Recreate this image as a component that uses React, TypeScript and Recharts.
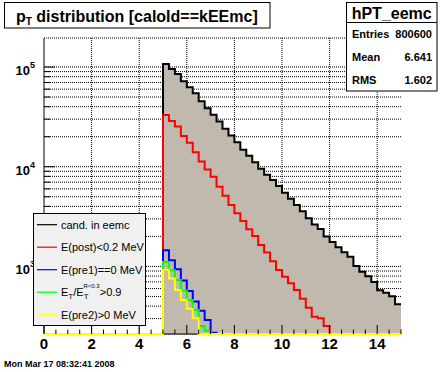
import { ComposedChart, Area, Line, XAxis, YAxis, CartesianGrid, Legend } from 'recharts'

const FONT = '"Liberation Sans", Arial, Helvetica, sans-serif'

// bin edges of the pT histogram (0.25 wide, 5 to 15)
const binEdges = [
  5, 5.25, 5.5, 5.75, 6, 6.25, 6.5, 6.75, 7, 7.25, 7.5, 7.75, 8, 8.25, 8.5, 8.75, 9, 9.25, 9.5, 9.75,
  10, 10.25, 10.5, 10.75, 11, 11.25, 11.5, 11.75, 12, 12.25, 12.5, 12.75, 13, 13.25, 13.5, 13.75, 14, 14.25, 14.5, 14.75, 15,
]

// counts per bin, starting at pT = 5; bins past the end of a list are empty
const candEemc = [
  107000, 95500, 85100, 72000, 62600, 54500, 45300, 38500, 33300, 28500,
  24000, 20600, 17600, 14800, 12900, 11100, 9550, 8320, 7360, 6400,
  5480, 4770, 4130, 3570, 3040, 2640, 2370, 2000, 1760, 1560,
  1390, 1250, 1010, 885, 796, 698, 576, 545, 501, 417,
]
const postCut = [
  33000, 28700, 25300, 20300, 17400, 14000, 11300, 9380, 7920, 6300,
  5120, 4130, 3410, 2860, 2360, 2020, 1640, 1380, 1130, 920,
  789, 678, 580, 474, 385, 313, 302, 252,
]
const pre1Cut = [1450, 1150, 935, 722, 567, 445, 360, 290, 216]
const isoCut = [1110, 914, 731, 573, 460, 366, 252, 226]
const pre2Cut = [927, 757, 580, 460, 377, 303]

const xTicks = [0, 0.5, 1, 1.5, 2, 2.5, 3, 3.5, 4, 4.5, 5, 5.5, 6, 6.5, 7, 7.5, 8, 8.5, 9, 9.5, 10, 10.5, 11, 11.5, 12, 12.5, 13, 13.5, 14, 14.5, 15]
const xLabels = [0, 2, 4, 6, 8, 10, 12, 14]
const yTicks = [
  300, 400, 500, 600, 700, 800, 900, 1000,
  2000, 3000, 4000, 5000, 6000, 7000, 8000, 9000, 10000,
  20000, 30000, 40000, 50000, 60000, 70000, 80000, 90000, 100000,
]
const yLabels = [1000, 10000, 100000]
const yFloor = 210
const yTop = 195500

const series = [
  { key: 'cand', name: 'cand. in eemc', color: '#000000', values: candEemc },
  { key: 'post', name: 'E(post)<0.2 MeV', color: '#ff0000', values: postCut },
  { key: 'pre1', name: 'E(pre1)==0 MeV', color: '#0000ff', values: pre1Cut },
  { key: 'iso', name: 'E_T/E_T^{R<0.3}>0.9', color: '#00ff00', values: isoCut },
  { key: 'pre2', name: 'E(pre2)>0 MeV', color: '#ffff00', values: pre2Cut },
]

const stats = [
  ['Entries', '800600'],
  ['Mean', '6.641'],
  ['RMS', '1.602'],
]

// empty bins sit on the bottom of the log axis, like ROOT draws them
const rows = [
  Object.fromEntries([['x', 0], ...series.map((s) => [s.key, yFloor])]),
  ...binEdges.map((x, i) => {
    const row: Record<string, number> = { x }
    series.forEach((s) => {
      const v = s.values[Math.min(i, binEdges.length - 2)] ?? 0
      row[s.key] = v > 0 ? v : yFloor
    })
    return row
  }),
]

function XTick({ x, y, payload }: any) {
  const major = xLabels.includes(payload.value)
  return (
    <g>
      <line x1={x} x2={x} y1={y} y2={y - (major ? 9 : 4.5)} stroke="#000" />
      {major && (
        <text x={x} y={y + 14.5} textAnchor="middle" fontSize={15} fontWeight="bold" fontFamily={FONT} fill="#000">
          {payload.value}
        </text>
      )}
    </g>
  )
}

function YTick({ x, y, payload }: any) {
  const major = yLabels.includes(payload.value)
  return (
    <g>
      <line x1={x} x2={x + (major ? 11 : 6)} y1={y} y2={y} stroke="#000" />
      {major && (
        <text x={x - 9} y={y + 8} textAnchor="end" fontSize={13} fontWeight="bold" fontFamily={FONT} fill="#000">
          10
          <tspan fontSize={9} dy={-7}>
            {Math.round(Math.log10(payload.value))}
          </tspan>
        </text>
      )}
    </g>
  )
}

function legendLabel(key: string, name: string) {
  if (key !== 'iso') return name
  return (
    <>
      E<tspan fontSize={8} dy={3}>T</tspan>
      <tspan dy={-3}>/E</tspan>
      <tspan fontSize={8} dy={3}>T</tspan>
      <tspan fontSize={6} dx={-5} dy={-11}>{'R<0.3'}</tspan>
      <tspan dy={8}>{'>0.9'}</tspan>
    </>
  )
}

function LegendBox() {
  return (
    <svg width={113} height={113} style={{ display: 'block' }}>
      <rect x={0.5} y={0.5} width={112} height={112} fill="#f0f0f0" stroke="#000" />
      {series.map((s, i) => {
        const cy = 11.7 + i * 22.5
        return (
          <g key={s.key}>
            <line x1={4} x2={24} y1={cy} y2={cy} stroke={s.color} strokeWidth={1.2} />
            <text x={28} y={cy + 4} fontSize={11} fontFamily={FONT} fill="#000">
              {legendLabel(s.key, s.name)}
            </text>
          </g>
        )
      })}
    </svg>
  )
}

export default function App() {
  return (
    <div style={{ position: 'absolute', left: 0, top: 0, width: 446, height: 372, background: '#fff', fontFamily: FONT }}>
      <ComposedChart width={446} height={372} data={rows} margin={{ top: 38, right: 45, bottom: 0, left: 0 }}>
        <CartesianGrid stroke="#000" strokeDasharray="1 1" verticalValues={xLabels.slice(1)} />
        <Area
          dataKey="cand"
          name={series[0].name}
          type="stepAfter"
          stroke="#000"
          strokeWidth={2}
          fill="#c1b8ae"
          fillOpacity={1}
          baseValue={yFloor}
          dot={false}
          activeDot={false}
          isAnimationActive={false}
        />
        <XAxis
          dataKey="x"
          type="number"
          domain={[0, 15]}
          ticks={xTicks}
          interval={0}
          tick={XTick}
          tickLine={false}
          tickSize={0}
          tickMargin={0}
          height={38}
          axisLine={{ stroke: '#000' }}
        />
        <XAxis xAxisId="top" orientation="top" type="number" domain={[0, 15]} tick={false} tickLine={false} height={0} axisLine={{ stroke: '#000' }} />
        <YAxis
          type="number"
          scale="log"
          domain={[yFloor, yTop]}
          ticks={yTicks}
          interval={0}
          tick={YTick}
          tickLine={false}
          tickSize={0}
          tickMargin={0}
          width={44}
          axisLine={{ stroke: '#000' }}
        />
        <YAxis yAxisId="right" orientation="right" type="number" domain={[0, 1]} tick={false} tickLine={false} width={0} axisLine={{ stroke: '#000' }} />
        {series.slice(1).map((s) => (
          <Line
            key={s.key}
            dataKey={s.key}
            name={s.name}
            type="stepAfter"
            stroke={s.color}
            strokeWidth={2}
            dot={false}
            activeDot={false}
            isAnimationActive={false}
            zIndex={600}
          />
        ))}
        <Legend
          content={LegendBox}
          layout="vertical"
          align="center"
          verticalAlign="middle"
          wrapperStyle={{ left: 33, top: 213, width: 113, height: 113, margin: 0, padding: 0 }}
        />
      </ComposedChart>
      <svg width={446} height={372} style={{ position: 'absolute', left: 0, top: 0, pointerEvents: 'none' }}>
        <rect x={4.5} y={2.5} width={265.5} height={25.5} fill="#fff" stroke="#000" />
        <text x={16} y={21.5} fontSize={16} fontWeight="bold" fontFamily={FONT} fill="#000">
          p<tspan fontSize={10} dy={3.5}>T</tspan>
          <tspan dy={-3.5}>{' distribution [caloId==kEEmc]'}</tspan>
        </text>
        <rect x={346.5} y={2.5} width={90.5} height={88.5} fill="#fff" stroke="#000" />
        <line x1={346.5} x2={437} y1={22.5} y2={22.5} stroke="#000" />
        <text x={391.7} y={18.5} textAnchor="middle" fontSize={16} fontWeight="bold" fontFamily={FONT} fill="#000">
          hPT_eemc
        </text>
        {stats.map(([label, value], i) => (
          <g key={label}>
            <text x={352} y={37.5 + i * 23} fontSize={11} fontWeight="bold" fontFamily={FONT} fill="#000">
              {label}
            </text>
            <text x={432} y={37.5 + i * 23} textAnchor="end" fontSize={11} fontWeight="bold" fontFamily={FONT} fill="#000">
              {value}
            </text>
          </g>
        ))}
        <text x={4} y={366.5} fontSize={9} fontWeight="bold" fontFamily={FONT} fill="#000">
          Mon Mar 17 08:32:41 2008
        </text>
      </svg>
    </div>
  )
}
